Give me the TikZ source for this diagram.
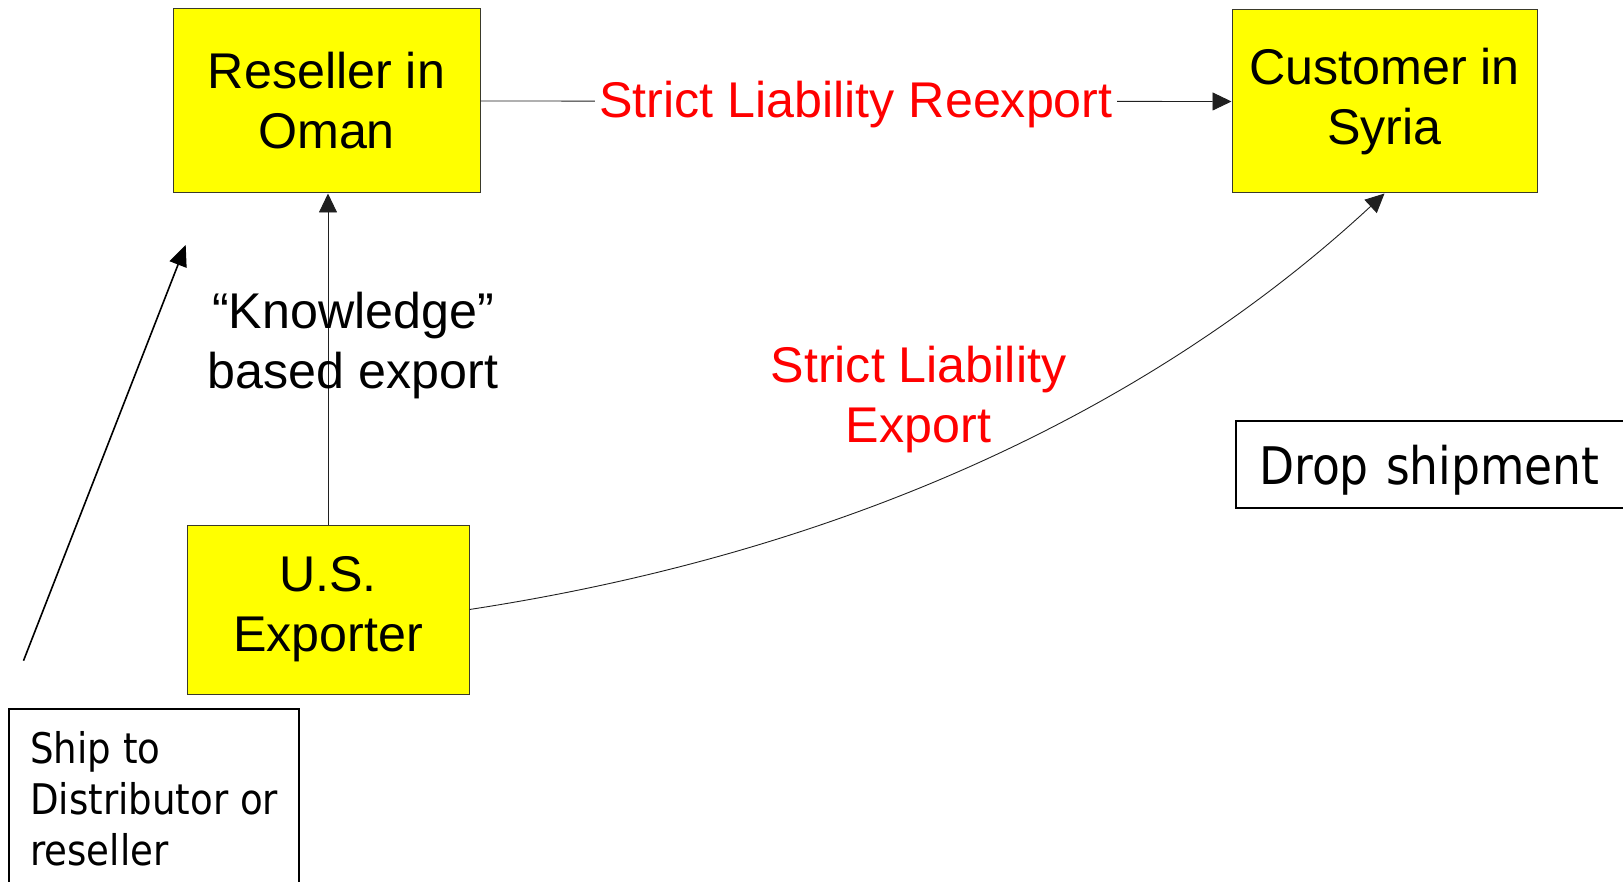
\documentclass[tikz,border=0pt]{standalone}
\usepackage{fontspec}
\setmainfont{Liberation Sans}
\newfontfamily\notefont[FakeStretch=0.88]{DejaVu Sans}
\usetikzlibrary{arrows.meta}

\definecolor{boxyellow}{RGB}{255,255,0}
\definecolor{boxedge}{HTML}{3A3A2A}
\definecolor{flowline}{HTML}{202020}
\definecolor{labelred}{RGB}{255,0,0}

\tikzset{
  ybox/.style={draw=boxedge, fill=boxyellow, line width=1pt, align=center,
    inner sep=0pt, font=\fontsize{50.2}{60}\selectfont},
  plain/.style={align=center, inner sep=0pt, font=\fontsize{50.2}{60}\selectfont},
  redlabel/.style={plain, text=labelred},
  notebox/.style={draw=black, line width=2.4pt, align=left,
    font=\notefont\fontsize{42.2}{51}\selectfont},
  flow/.style={draw=flowline, line width=0.9pt,
    -{Triangle[length=19pt,width=18pt]}},
  diag/.style={draw=black, line width=1.6pt,
    -{Triangle[length=21pt,width=18pt]}}
}

\begin{document}
\begin{tikzpicture}[x=1pt, y=-1pt]
  \clip (0,0) rectangle (1623,882);

  % parties
  \node[ybox, minimum width=307pt, minimum height=184pt] (reseller) at (326.5,101) {Reseller in\\Oman};
  \node[ybox, minimum width=305pt, minimum height=183pt] (customer) at (1384.5,101.5) {Customer in\\Syria};
  \node[ybox, minimum width=282pt, minimum height=169pt] (exporter) at (328,609.5) {U.S.\\Exporter};

  % notes
  \node[notebox, anchor=north west, inner xsep=21pt, inner ysep=22pt] (ship) at (8,708)
    {Ship to\\Distributor or\\reseller};
  \node[notebox, anchor=base west, inner xsep=23pt, inner ysep=0pt,
        text height=64pt, text depth=23pt, text width=370pt,
        font=\notefont\fontsize{51.8}{60}\selectfont] (drop) at (1235,485) {Drop shipment};

  % flows
  \draw[flow] (reseller.east) --
    node[redlabel, fill=white, inner xsep=4pt, yshift=-3.5pt] (reexport) {Strict Liability Reexport}
    (customer.west);
  \draw[flow] (exporter.north) -- (exporter.north |- reseller.south);
  \draw[flow] (exporter.east) .. controls (865,549) and (1164,398) .. (customer.south);

  % labels
  \node[plain] (knowledge) at (353,345.5) {“Knowledge”\\based export};
  \node[redlabel] (strictexport) at (918.5,399.2) {Strict Liability\\Export};

  % pointer from the note
  \coordinate (shipfoot) at (23.5,660.7);
  \coordinate (shiptip) at (185.7,245);
  \draw[diag] (shipfoot) -- (shiptip);
\end{tikzpicture}
\end{document}
